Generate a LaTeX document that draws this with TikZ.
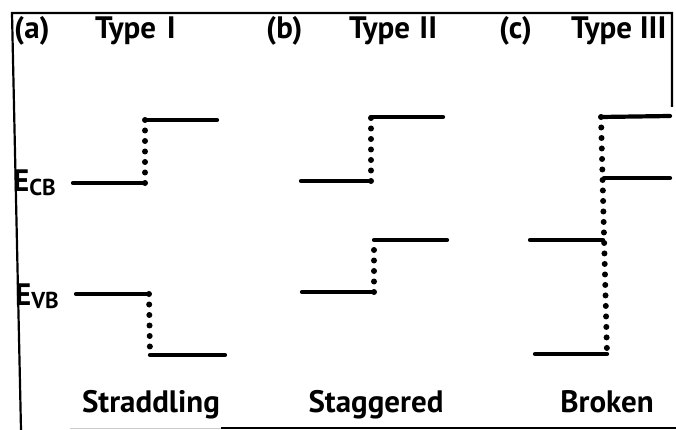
\documentclass[tikz,border=0pt]{standalone}
\usepackage{fontspec}
\setmainfont{PT Sans}
\begin{document}
\begin{tikzpicture}[x=1pt,y=-1pt,
  frame/.style={line width=2.2pt},
  level/.style={line width=4.2pt,line cap=round},
  jump/.style={line width=6pt,line cap=round,dash pattern=on 0pt off 10.5pt},
  txt/.style={font=\bfseries\fontsize{31}{34}\selectfont,inner sep=0pt},
  lbl/.style={txt,anchor=base west},
  sub/.style={txt,anchor=base}]
\useasboundingbox (0,0) rectangle (676,430);
% partial frame
\draw[frame] (21,430) -- (12,13) -- (672,13) -- (672,107);
\draw[frame] (221,428) -- (676,428);
\draw[frame,gray!40,line width=1pt] (70,428) -- (221,428);

% headings
\node[lbl] (ha) at (14,39) {(a)};
\node[lbl] (ta) at (95,39) {Type\hspace{0.35em}I};
\node[lbl] (hb) at (266,39) {(b)};
\node[lbl] (tb) at (349,39) {Type\hspace{0.3em}II};
\node[lbl] (hc) at (499,39) {(c)};
\node[lbl] (tc) at (571,39) {Type\hspace{0.25em}III};

% band labels
\node[lbl] (ecb) at (13,192) {E\raisebox{-0.25ex}{\fontsize{23}{25}\selectfont CB}};
\node[lbl] (evb) at (15,305) {E\raisebox{-0.25ex}{\fontsize{23}{25}\selectfont VB}};

% (a) straddling
\coordinate (a1) at (73,183);  \coordinate (a2) at (145,183);
\coordinate (a3) at (145,120); \coordinate (a4) at (217,120);
\coordinate (a5) at (76,294);  \coordinate (a6) at (149,294);
\coordinate (a7) at (150,355); \coordinate (a8) at (225,355);
\draw[level] (a1) -- (a2);
\draw[jump] (a2) -- (a3);
\draw[level] (a3) -- (a4);
\draw[level] (a5) -- (a6);
\draw[jump] (a6) -- (a7);
\draw[level] (a7) -- (a8);

% (b) staggered
\coordinate (b1) at (301,181); \coordinate (b2) at (371,181);
\coordinate (b3) at (371,117); \coordinate (b4) at (443,117);
\coordinate (b5) at (302,292); \coordinate (b6) at (374,292);
\coordinate (b7) at (374,240); \coordinate (b8) at (447,240);
\draw[level] (b1) -- (b2);
\draw[jump] (b2) -- (b3);
\draw[level] (b3) -- (b4);
\draw[level] (b5) -- (b6);
\draw[jump] (b6) -- (b7);
\draw[level] (b7) -- (b8);

% (c) broken gap
\coordinate (c1) at (601,117); \coordinate (c2) at (670,116);
\coordinate (c3) at (604,178); \coordinate (c4) at (670,178);
\coordinate (c5) at (530,240); \coordinate (c6) at (603,240);
\coordinate (c7) at (535,354); \coordinate (c8) at (607,354);
\draw[jump] (c1) -- (c8);
\draw[level] (c1) -- (c2);
\draw[level] (c3) -- (c4);
\draw[level] (c5) -- (c6);
\draw[level] (c7) -- (c8);

% captions
\node[sub] (sa) at (151,412) {Straddling};
\node[sub] (sb) at (376,412) {Staggered};
\node[sub] (sc) at (607,412) {Broken};
\end{tikzpicture}
\end{document}
